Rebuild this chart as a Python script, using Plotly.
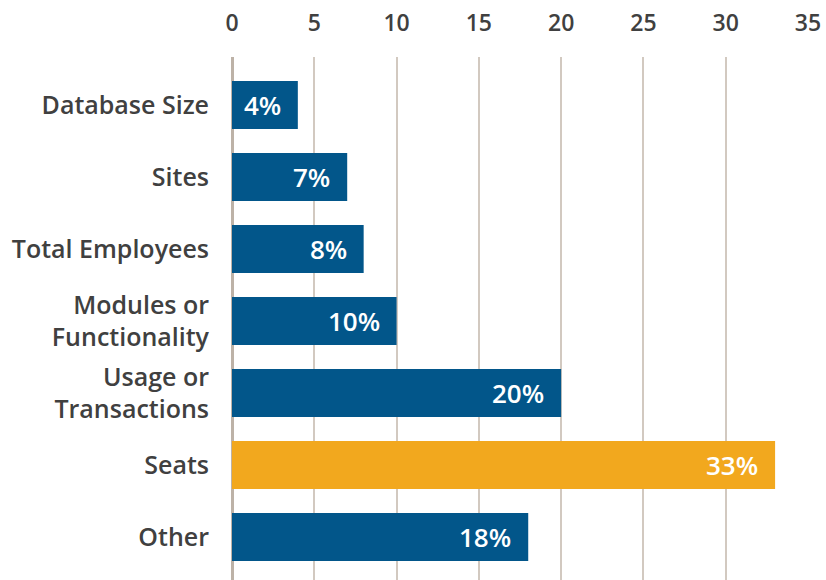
import plotly.graph_objects as go

categories = ["Database Size", "Sites", "Total Employees", "Modules or<br>Functionality",
              "Usage or<br>Transactions", "Seats", "Other"]
values = [4, 7, 8, 10, 20, 33, 18]
labels = ["4%", "7%", "8%", "10%", "20%", "33%", "18%"]
tick_vals = [0, 5, 10, 15, 20, 25, 30, 35]

BLUE = "#02568a"
ORANGE = "#f2a81e"
FONT = "Open Sans"
colors = [ORANGE if c == "Seats" else BLUE for c in categories]

fig = go.Figure()
fig.add_trace(go.Bar(
    y=categories, x=values, orientation="h",
    marker=dict(color=colors, line=dict(width=0)),
    width=0.667, hoverinfo="skip",
))

for c, v, t in zip(categories, values, labels):
    fig.add_annotation(x=v, y=c, text=t, showarrow=False, xanchor="right",
                       xshift=-15, font=dict(family=FONT, size=26, color="white", weight=600))

fig.update_layout(
    width=826, height=580,
    margin=dict(l=232, r=18, t=57, b=0),
    paper_bgcolor="white", plot_bgcolor="white",
    showlegend=False,
    font=dict(family=FONT, color="#404040"),
    xaxis=dict(side="top", range=[0, 35], tickvals=tick_vals,
               showgrid=True, gridcolor="#d2c9c0", gridwidth=1.5,
               zeroline=True, zerolinecolor="#bdb2a7", zerolinewidth=2.5,
               showline=False, ticks="", ticklabelstandoff=20,
               tickfont=dict(family=FONT, size=23, color="#404040", weight=600)),
    yaxis=dict(categoryorder="array", categoryarray=categories,
               range=[6.597, -0.667], showgrid=False, zeroline=False,
               showline=False, ticks="", ticklabelstandoff=22,
               tickfont=dict(family=FONT, size=25, color="#404040", weight=600)),
)

fig.write_html("out.html", config={"displayModeBar": False},
               post_script="document.body.style.margin='0';document.body.style.overflow='hidden';")
